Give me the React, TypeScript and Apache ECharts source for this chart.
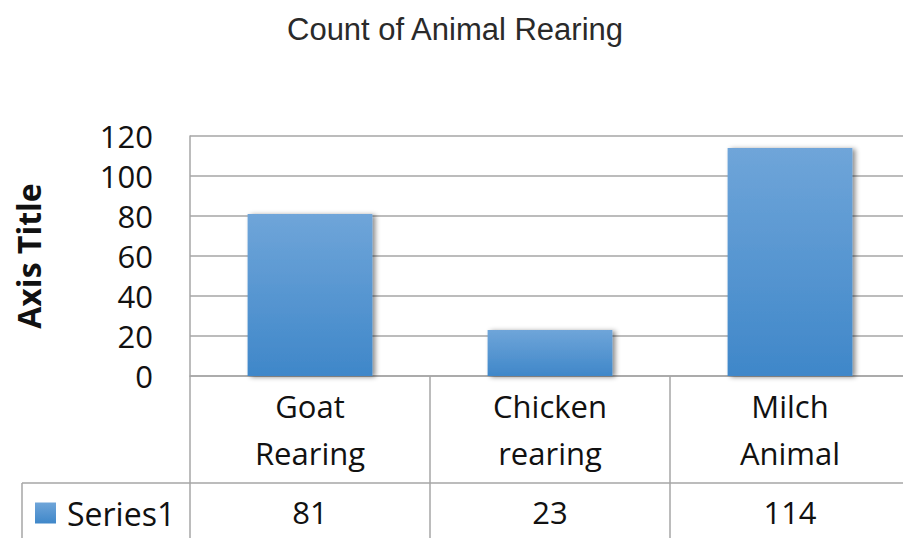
import React, { useEffect, useRef } from "react";
import * as echarts from "echarts";

const categories = ["Goat\nRearing", "Chicken\nrearing", "Milch\nAnimal"];
const values = [81, 23, 114];
const seriesName = "Series1";
const chartTitle = "Count of Animal Rearing";
const yAxisTitle = "Axis Title";

const GRID = "#a6a6a6";
const FONT = "Open Sans";

export default function App() {
  const ref = useRef<HTMLDivElement>(null);
  useEffect(() => {
    if (!ref.current) return;
    const chart = echarts.init(ref.current, null, { renderer: "svg" });
    chart.setOption({
      animation: false,
      backgroundColor: "#ffffff",
      title: {
        text: chartTitle,
        left: 282,
        top: 9,
        textStyle: {
          fontFamily: "Liberation Sans",
          fontWeight: "normal",
          fontSize: 31,
          color: "#2a2a2a",
        },
      },
      legend: {
        left: 30,
        top: 492,
        icon: "rect",
        itemWidth: 21,
        itemHeight: 21,
        itemGap: 0,
        data: [seriesName],
        textStyle: {
          fontFamily: FONT,
          fontSize: 32,
          lineHeight: 30,
          color: "#111",
          padding: [0, 0, 0, 6],
        },
        selectedMode: false,
      },
      grid: {
        left: 190,
        top: 136,
        right: 0,
        height: 240,
        containLabel: false,
        outerBoundsMode: "none",
      },
      xAxis: [
        {
          type: "category",
          data: categories,
          position: "bottom",
          axisLine: { show: true, lineStyle: { color: GRID, width: 1.5 } },
          axisTick: { show: true, length: 162, lineStyle: { color: GRID, width: 1.5 } },
          axisLabel: {
            fontFamily: FONT,
            fontSize: 31,
            lineHeight: 47,
            color: "#111",
            margin: 6,
            interval: 0,
          },
        },
        {
          type: "category",
          data: values.map((v) => String(v)),
          position: "bottom",
          axisLine: { show: false },
          axisTick: { show: false },
          axisLabel: {
            fontFamily: FONT,
            fontSize: 31,
            lineHeight: 30,
            color: "#111",
            margin: 121,
            interval: 0,
          },
        },
      ],
      yAxis: {
        type: "value",
        min: 0,
        max: 120,
        interval: 20,
        name: yAxisTitle,
        nameLocation: "middle",
        nameRotate: 90,
        nameGap: 146,
        nameTextStyle: { fontFamily: FONT, fontWeight: "bold", fontSize: 32, color: "#111" },
        axisLine: { show: true, lineStyle: { color: GRID, width: 1.5 } },
        axisTick: { show: false },
        splitLine: { show: true, lineStyle: { color: GRID, width: 1.5 } },
        axisLabel: { fontFamily: FONT, fontSize: 31, color: "#111", margin: 37 },
      },
      graphic: [
        {
          type: "line",
          shape: { x1: 22, y1: 483, x2: 910, y2: 483 },
          style: { stroke: GRID, lineWidth: 1.5 },
        },
        {
          type: "line",
          shape: { x1: 22, y1: 483, x2: 22, y2: 538 },
          style: { stroke: GRID, lineWidth: 1.5 },
        },
      ],
      series: [
        {
          name: seriesName,
          type: "bar",
          data: values,
          barWidth: "52%",
          itemStyle: {
            color: new echarts.graphic.LinearGradient(0, 0, 0, 1, [
              { offset: 0, color: "#6fa5d9" },
              { offset: 1, color: "#3f87c9" },
            ]),
            shadowBlur: 5,
            shadowColor: "rgba(0,0,0,0.45)",
            shadowOffsetX: 3,
            shadowOffsetY: 1,
          },
        },
      ],
    });
    return () => chart.dispose();
  }, []);
  return (
    <div
      ref={ref}
      style={{ position: "fixed", left: 0, top: 0, width: 910, height: 538 }}
    />
  );
}
